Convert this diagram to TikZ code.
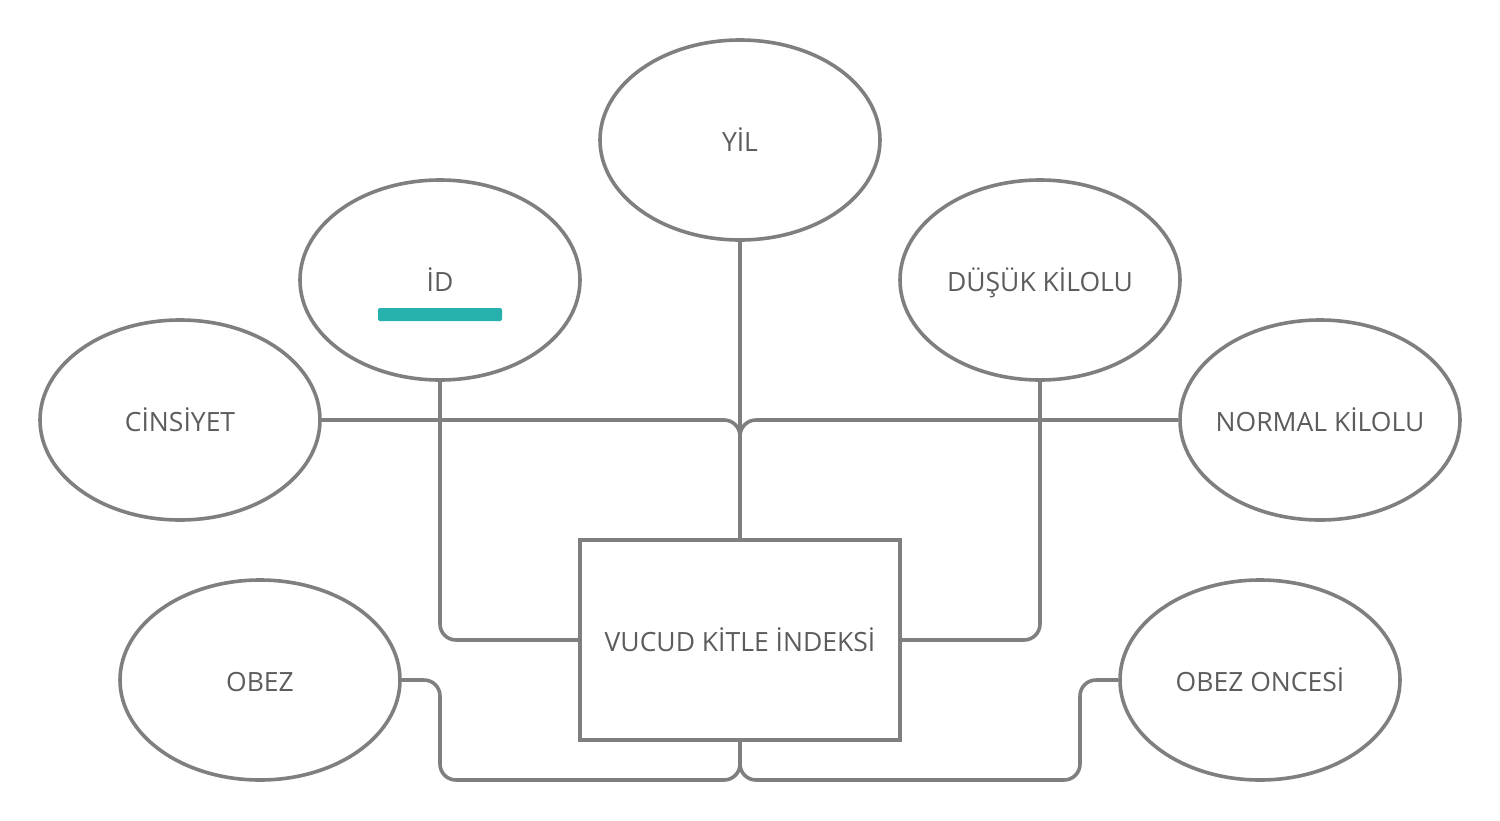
\documentclass[tikz,border=0pt]{standalone}
\usepackage{fontspec}
\setmainfont{Open Sans}
\usetikzlibrary{shapes.geometric}
\definecolor{linegray}{HTML}{7F7F7F}
\definecolor{txtgray}{HTML}{5C5C5C}
\definecolor{teal1}{HTML}{26B1AD}
\begin{document}
\begin{tikzpicture}[x=1pt,y=-1pt,
  lbl/.style={font=\fontsize{26.5}{30}\selectfont,text=txtgray,text height=22pt,text depth=0pt},
  attr/.style={ellipse,draw=linegray,line width=3.6pt,minimum width=280pt,minimum height=200pt,inner xsep=-15pt,inner ysep=0pt,lbl},
  ent/.style={rectangle,draw=linegray,line width=3.6pt,minimum width=320pt,minimum height=200pt,inner sep=0pt,lbl},
  conn/.style={draw=linegray,line width=3.6pt,rounded corners=16pt}]
\useasboundingbox (0,0) rectangle (1500,820);
\node[attr] (cin) at (180,420) {CİNSİYET};
\node[attr] (id) at (440,280) {};
\node[lbl,inner sep=0pt] (idt) at (440,280) {İD};
\node[attr] (yil) at (740,140) {YİL};
\node[attr] (dus) at (1040,280) {DÜŞÜK KİLOLU};
\node[attr] (nor) at (1320,420) {NORMAL KİLOLU};
\node[attr] (obez) at (260,680) {OBEZ};
\node[attr] (once) at (1260,680) {OBEZ ONCESİ};
\node[ent] (vk) at (740,640) {VUCUD KİTLE İNDEKSİ};
\fill[teal1,rounded corners=2pt] (378,308) rectangle (502,321);
\coordinate (bl) at (440,780);
\coordinate (br) at (1080,780);
\draw[conn] (yil.south) -- (vk.north);
\draw[conn] (cin.east) -- (vk.north |- cin.east) -- (vk.north);
\draw[conn] (nor.west) -- (vk.north |- nor.west) -- (vk.north);
\draw[conn] (id.south) -- (id.south |- vk.west) -- (vk.west);
\draw[conn] (dus.south) -- (dus.south |- vk.east) -- (vk.east);
\draw[conn] (obez.east) -- (bl |- obez.east) -- (bl) -- (vk.south |- bl) -- (vk.south);
\draw[conn] (once.west) -- (br |- once.west) -- (br) -- (vk.south |- br) -- (vk.south);
\end{tikzpicture}
\end{document}
